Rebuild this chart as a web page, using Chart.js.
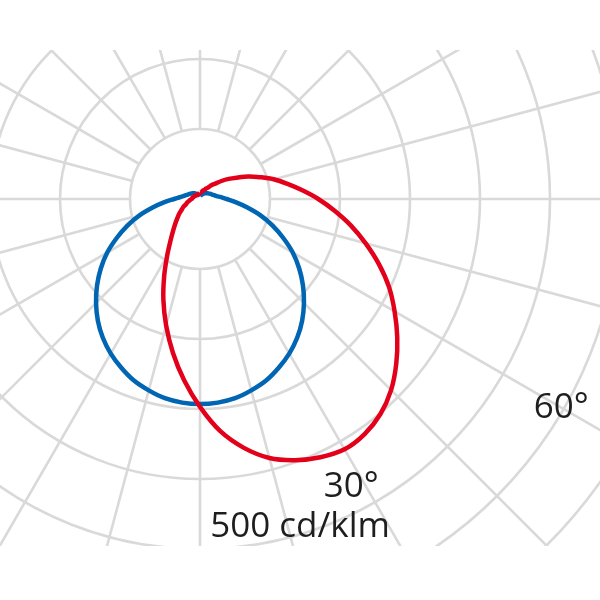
<!DOCTYPE html>
<html>
<head>
<meta charset="utf-8">
<title>Polar luminous intensity</title>
<script src="https://cdn.jsdelivr.net/npm/chart.js@4.4.1/dist/chart.umd.min.js"></script>
<style>
    html, body { margin: 0; padding: 0; background: #ffffff; }
    #wrap { width: 600px; height: 600px; }
</style>
</head>
<body>
<div id="wrap"><canvas id="myChart" width="600" height="600"></canvas></div>
<script>
// gamma angles (0 = straight down, positive = to the right), 5 deg steps
const angles = [-180, -175, -170, -165, -160, -155, -150, -145, -140, -135,
                -130, -125, -120, -115, -110, -105, -100, -95, -90, -85,
                -80, -75, -70, -65, -60, -55, -50, -45, -40, -35,
                -30, -25, -20, -15, -10, -5, 0,
                5, 10, 15, 20, 25, 30, 35, 40, 45, 50,
                55, 60, 65, 70, 75, 80, 85, 90, 95, 100,
                105, 110, 115, 120, 125, 130, 135, 140, 145, 150,
                155, 160, 165, 170, 175, 180];

// cd/klm, C0-C180 plane (blue)
const blueValues = [4, 4.5, 5, 6, 6.5, 7.5, 8.5, 9.5, 10.5, 11.5,
                    13, 14, 15.5, 17, 18.5, 21, 24, 29, 37, 51,
                    68, 89, 110, 131, 153, 173, 192, 210, 227, 242,
                    255, 266, 276, 283, 289, 292, 293,
                    292, 289, 283, 276, 266, 255, 242, 227, 210, 192,
                    173, 153, 131, 110, 89, 68, 51, 38, 30, 24,
                    21, 18.5, 17, 15.5, 14, 13, 11.5, 10.5, 9.5, 8.5,
                    7.5, 6.5, 6, 5, 4.5, 4];

// cd/klm, C90-C270 plane (red)
const redValues = [9, 8, 8, 7, 7, 7, 7, 7, 7, 8,
                   8, 8, 9, 9, 9, 10, 11, 11, 12, 14,
                   16, 19, 21, 26, 30, 36, 42, 50, 60, 74,
                   94, 121, 153, 187, 223, 260, 297,
                   333, 361, 383, 397, 407, 413, 410, 401, 386, 366,
                   344, 321, 298, 272, 245, 219, 193, 169, 146, 126,
                   109, 91, 76, 61, 50, 40, 31, 26, 20, 17,
                   14, 13, 11, 10, 9, 9];

// grid
const ringValues = [100, 200, 300, 400, 500, 600, 700, 800];
const spokeAngles = [0, 15, 30, 45, 60, 75, 90, 105, 120, 135, 150, 165,
                     180, 195, 210, 225, 240, 255, 270, 285, 300, 315, 330, 345];

// text on the diagram
const labelTexts = ['30°', '60°', '500 cd/klm'];

function toXY(values) {
    return values.map((v, i) => {
        const a = angles[i] * Math.PI / 180;
        return {x: v * Math.sin(a), y: -v * Math.cos(a)};
    });
}

const polarGrid = {
    id: 'polarGrid',
    beforeDatasetsDraw(chart) {
        const {ctx, chartArea, scales: {x, y}} = chart;
        const cx = x.getPixelForValue(0);
        const cy = y.getPixelForValue(0);
        const rad = v => x.getPixelForValue(v) - cx;

        ctx.save();
        ctx.beginPath();
        ctx.rect(chartArea.left, chartArea.top, chartArea.right - chartArea.left, chartArea.bottom - chartArea.top);
        ctx.clip();
        ctx.strokeStyle = '#d9d9d9';
        ctx.lineWidth = 2.6;

        ringValues.forEach(v => {
            ctx.beginPath();
            ctx.arc(cx, cy, rad(v), 0, Math.PI * 2);
            ctx.stroke();
        });

        const r0 = rad(ringValues[0]);
        const r1 = rad(ringValues[ringValues.length - 1]);
        spokeAngles.forEach(deg => {
            const a = deg * Math.PI / 180;
            ctx.beginPath();
            ctx.moveTo(cx + r0 * Math.sin(a), cy + r0 * Math.cos(a));
            ctx.lineTo(cx + r1 * Math.sin(a), cy + r1 * Math.cos(a));
            ctx.stroke();
        });
        ctx.restore();
    }
};

const diagramLabels = {
    id: 'diagramLabels',
    afterDraw(chart, args, opts) {
        const {ctx, scales: {x, y}} = chart;
        ctx.save();
        ctx.fillStyle = '#1e1e1e';
        ctx.font = '35px "Open Sans"';
        ctx.textAlign = 'center';
        ctx.textBaseline = 'middle';
        opts.items.forEach(item => {
            ctx.fillText(item.text, x.getPixelForValue(item.x), y.getPixelForValue(item.y));
        });
        ctx.restore();
    }
};

const ctx = document.getElementById('myChart').getContext('2d');
const myChart = new Chart(ctx, {
    type: 'scatter',
    data: {
        datasets: [{
            label: 'C90 - C270',
            data: toXY(redValues),
            showLine: true,
            borderColor: '#e2001a',
            borderWidth: 4.5,
            tension: 0.35,
            pointRadius: 0,
            fill: false
        }, {
            label: 'C0 - C180',
            data: toXY(blueValues),
            showLine: true,
            borderColor: '#0066b3',
            borderWidth: 4.5,
            tension: 0.35,
            pointRadius: 0,
            fill: false
        }]
    },
    options: {
        responsive: false,
        animation: false,
        events: [],
        layout: {padding: {top: 50, bottom: 54, left: 0, right: 0}},
        scales: {
            // 100 cd/klm = 70 px, centre at (200, 199)
            x: {type: 'linear', display: false, min: -200 / 0.7, max: 400 / 0.7},
            y: {type: 'linear', display: false, min: -347 / 0.7, max: 149 / 0.7}
        },
        plugins: {
            legend: {display: false},
            tooltip: {enabled: false},
            diagramLabels: {
                items: [
                    {text: labelTexts[0], x: 216, y: -412},
                    {text: labelTexts[1], x: 516, y: -298},
                    {text: labelTexts[2], x: 143, y: -468}
                ]
            }
        }
    },
    plugins: [polarGrid, diagramLabels]
});
</script>
</body>
</html>
